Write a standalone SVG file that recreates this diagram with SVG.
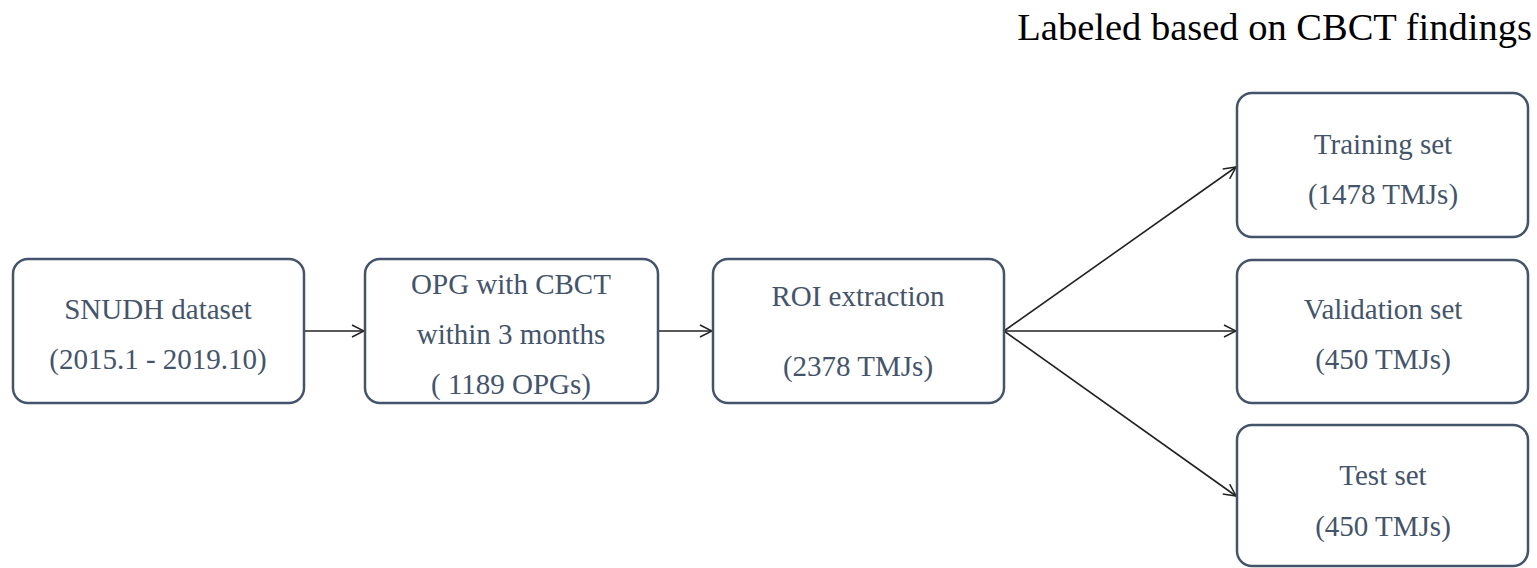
<svg xmlns="http://www.w3.org/2000/svg" width="1537" height="568" viewBox="0 0 1537 568">
<defs>
<marker id="arr" markerWidth="14" markerHeight="14" refX="13" refY="7" orient="auto" markerUnits="userSpaceOnUse">
<path d="M1,1 L13,7 L1,13" fill="none" stroke="#222" stroke-width="1.5"/>
</marker>
<style>
.box{fill:#fff;stroke:#44546a;stroke-width:2.5}
.t{font-family:"Liberation Serif","Times New Roman",serif;font-size:29px;fill:#44546a;text-anchor:middle}
.h{font-family:"Liberation Serif","Times New Roman",serif;font-size:38.5px;fill:#000;text-anchor:end}
.c{stroke:#222;stroke-width:1.6;fill:none;marker-end:url(#arr)}
</style>
</defs>
<rect width="1537" height="568" fill="#fff"/>
<text class="h" x="1532" y="40">Labeled based on CBCT findings</text>
<g id="connectors">
<line class="c" x1="304" y1="331" x2="364" y2="331"/>
<line class="c" x1="658" y1="331" x2="712" y2="331"/>
<line class="c" x1="1004" y1="331" x2="1236" y2="167"/>
<line class="c" x1="1004" y1="331" x2="1236" y2="331"/>
<line class="c" x1="1004" y1="331" x2="1236" y2="496"/>
</g>
<g id="snudh">
<rect class="box" x="13" y="259" width="291" height="144" rx="15"/>
<text class="t" x="158" y="319">SNUDH dataset</text>
<text class="t" x="158" y="369">(2015.1 - 2019.10)</text>
</g>
<g id="opg">
<rect class="box" x="365" y="259" width="293" height="144" rx="15"/>
<text class="t" x="511" y="294">OPG with CBCT</text>
<text class="t" x="511" y="344">within 3 months</text>
<text class="t" x="511" y="394">( 1189 OPGs)</text>
</g>
<g id="roi">
<rect class="box" x="713" y="259" width="291" height="144" rx="15"/>
<text class="t" x="858" y="306">ROI extraction</text>
<text class="t" x="858" y="376">(2378 TMJs)</text>
</g>
<g id="training">
<rect class="box" x="1237" y="93" width="291" height="144" rx="15"/>
<text class="t" x="1383" y="154">Training set</text>
<text class="t" x="1383" y="204">(1478 TMJs)</text>
</g>
<g id="validation">
<rect class="box" x="1237" y="260" width="291" height="143" rx="15"/>
<text class="t" x="1383" y="319">Validation set</text>
<text class="t" x="1383" y="369">(450 TMJs)</text>
</g>
<g id="test">
<rect class="box" x="1237" y="425" width="291" height="141" rx="15"/>
<text class="t" x="1383" y="485">Test set</text>
<text class="t" x="1383" y="536">(450 TMJs)</text>
</g>
</svg>
